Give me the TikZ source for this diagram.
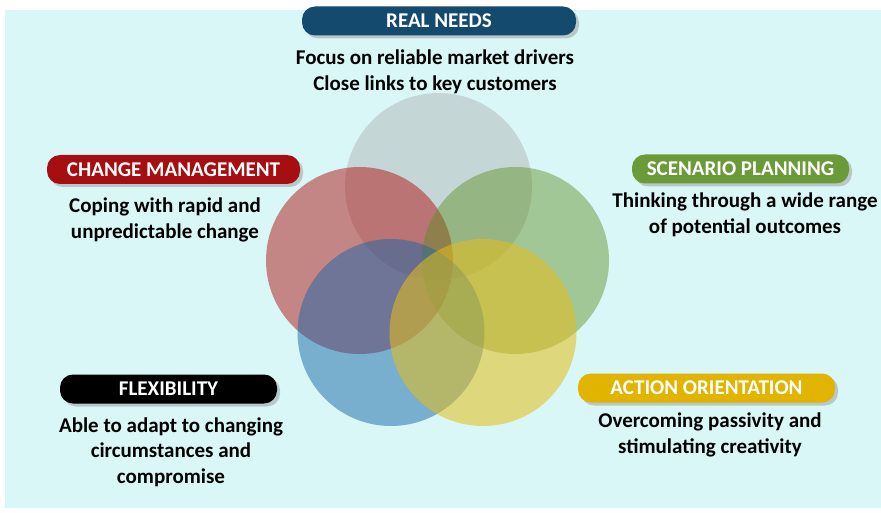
\documentclass[tikz,border=0pt]{standalone}
\usepackage{fontspec}
\setmainfont{Carlito}
\usetikzlibrary{shadows}
\definecolor{bgc}{RGB}{217,247,247}
\definecolor{cgray}{RGB}{179,183,183}
\definecolor{cred}{RGB}{175,10,10}
\definecolor{cgreen}{RGB}{91,142,31}
\definecolor{cblue}{RGB}{25,103,167}
\definecolor{cyellow}{RGB}{228,190,26}
\definecolor{pblue}{RGB}{19,74,110}
\definecolor{pred}{RGB}{165,15,18}
\definecolor{pgreen}{RGB}{107,154,56}
\definecolor{pyellow}{RGB}{224,180,0}
\tikzset{
  pill/.style={rounded corners=13pt, minimum height=29pt, text=white, inner sep=0pt,
    font=\bfseries\fontsize{21}{24}\selectfont,
    drop shadow={shadow xshift=3pt, shadow yshift=-3pt, fill=black!40, opacity=0.5}},
  body/.style={font=\bfseries\fontsize{21}{25.5}\selectfont, align=center, text=black, inner sep=0pt},
  venn/.style={draw=none}
}
\begin{document}
\begin{tikzpicture}[x=1pt,y=-1pt]
\useasboundingbox (0,0) rectangle (881,513);
\fill[bgc] (5,10) rectangle (881,508);
% circles
\fill[venn, cgray, fill opacity=0.5] (438.5,186.5) circle (93.5);
\fill[venn, cred, fill opacity=0.48] (359.5,260.5) circle (93.5);
\fill[venn, cgreen, fill opacity=0.45] (515.5,260.5) circle (93.5);
\fill[venn, cblue, fill opacity=0.5] (391,332.5) circle (93.5);
\fill[venn, cyellow, fill opacity=0.56] (483,332.5) circle (93.5);
% pills
\node[pill, fill=pblue, minimum width=274pt] (real) at (439,21) {REAL NEEDS};
\node[pill, fill=pred, minimum width=253pt] (change) at (173.5,169.5) {CHANGE MANAGEMENT};
\node[pill, fill=pgreen, minimum width=217pt] (scen) at (740.5,169) {SCENARIO PLANNING};
\node[pill, fill=black, minimum width=217pt] (flex) at (168.5,389) {FLEXIBILITY};
\node[pill, fill=pyellow, minimum width=257pt] (act) at (706.5,388) {ACTION ORIENTATION};
% body texts
\node[body] (realt) at (435,72) {Focus on reliable market drivers\\Close links to key customers};
\node[body] (changet) at (165,220) {Coping with rapid and\\unpredictable change};
\node[body] (scent) at (745,215) {Thinking through a wide range\\of potential outcomes};
\node[body] (flext) at (171,452) {Able to adapt to changing\\circumstances and\\compromise};
\node[body] (actt) at (710,435) {Overcoming passivity and\\stimulating creativity};
\end{tikzpicture}
\end{document}
